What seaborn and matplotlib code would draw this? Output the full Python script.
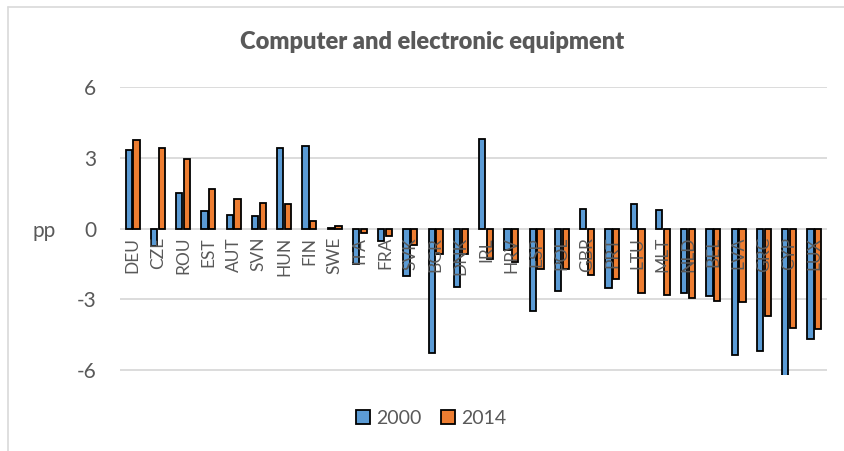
import matplotlib
matplotlib.use("Agg")
import matplotlib.pyplot as plt
import matplotlib.patches as mpatches
import matplotlib.lines as mlines
import numpy as np
import pandas as pd
import seaborn as sns

countries = ["DEU", "CZE", "ROU", "EST", "AUT", "SVN", "HUN", "FIN", "SWE",
             "ITA", "FRA", "SVK", "BGR", "DNK", "IRL", "HRV", "ESP", "POL",
             "GBR", "PRT", "LTU", "MLT", "NLD", "BEL", "LVA", "GRC", "CYP", "LUX"]
v2000 = [3.34, -0.74, 1.49, 0.75, 0.58, 0.53, 3.43, 3.48, 0.03,
         -1.50, -0.53, -2.02, -5.27, -2.47, 3.78, -0.91, -3.47, -2.66,
         0.82, -2.53, 1.06, 0.79, -2.72, -2.87, -5.36, -5.19, -6.30, -4.66]
v2014 = [3.76, 3.41, 2.93, 1.69, 1.27, 1.07, 1.04, 0.34, 0.13,
         -0.20, -0.32, -0.69, -1.06, -1.06, -1.28, -1.42, -1.70, -1.71,
         -1.98, -2.15, -2.72, -2.80, -2.94, -3.08, -3.12, -3.68, -4.20, -4.27]
years = ["2000", "2014"]
yticks = [-6, -3, 0, 3, 6]

df = pd.DataFrame({
    "country": countries * 2,
    "year": [years[0]] * len(countries) + [years[1]] * len(countries),
    "value": v2000 + v2014,
})

sns.set_theme(style="white")
plt.rcParams["font.family"] = ["Lato", "DejaVu Sans"]

text_grey = "#595959"
grid_grey = "#D9D9D9"
palette = {"2000": "#5B9BD5", "2014": "#ED7D31"}

W, H = 845, 451
fig = plt.figure(figsize=(W / 100, H / 100), dpi=100)
ax = fig.add_axes([120 / W, 1 - 375 / H, 707 / W, 288 / H])

sns.barplot(data=df, x="country", y="value", hue="year", order=countries,
            hue_order=years, palette=palette, width=0.62, gap=0.18,
            edgecolor="black", linewidth=1.3, saturation=1, ax=ax,
            legend=False, zorder=2)

ax.set_ylim(-6.2, 6)
ax.set_xlim(-0.5, len(countries) - 0.5)
ax.set_yticks(yticks)
ax.set_yticklabels([str(t) for t in yticks], color=text_grey, fontsize=15)
ax.tick_params(axis="y", length=0, pad=17)
for t in yticks:
    ax.axhline(t, color=grid_grey, lw=1.3, zorder=1)
for s in ax.spines.values():
    s.set_visible(False)

ax.set_xlabel("")
ax.set_ylabel("")
ax.set_xticks([])

# category labels sit just under the zero line
for i, c in enumerate(countries):
    ax.annotate(c, xy=(i, 0), xytext=(0, -6), textcoords="offset points",
                rotation=90, ha="center", va="top", color=text_grey,
                fontsize=12.5, zorder=4)

fig.text(44 / W, 1 - 231 / H, "pp", ha="center", va="center",
         color=text_grey, fontsize=15)

fig.text(432 / W, 1 - 42 / H, "Computer and electronic equipment",
         ha="center", va="center", color=text_grey, fontsize=17,
         fontweight="heavy")

handles = [mpatches.Patch(facecolor=palette[y], edgecolor="black", lw=1.3,
                          label=y) for y in years]
fig.legend(handles=handles, loc="center", bbox_to_anchor=(431 / W, 1 - 418 / H),
           ncol=2, frameon=False, fontsize=14, handlelength=0.75,
           handleheight=0.75, handletextpad=0.3, columnspacing=1.0,
           labelcolor=text_grey)

# outer chart frame (top and left edges)
fig.add_artist(mlines.Line2D([8 / W, 8 / W], [0, 1 - 7 / H],
                             transform=fig.transFigure, color="#D9D9D9", lw=1.2))
fig.add_artist(mlines.Line2D([8 / W, 1], [1 - 7 / H, 1 - 7 / H],
                             transform=fig.transFigure, color="#D9D9D9", lw=1.2))

fig.savefig("out.png", dpi=100, facecolor="white")
